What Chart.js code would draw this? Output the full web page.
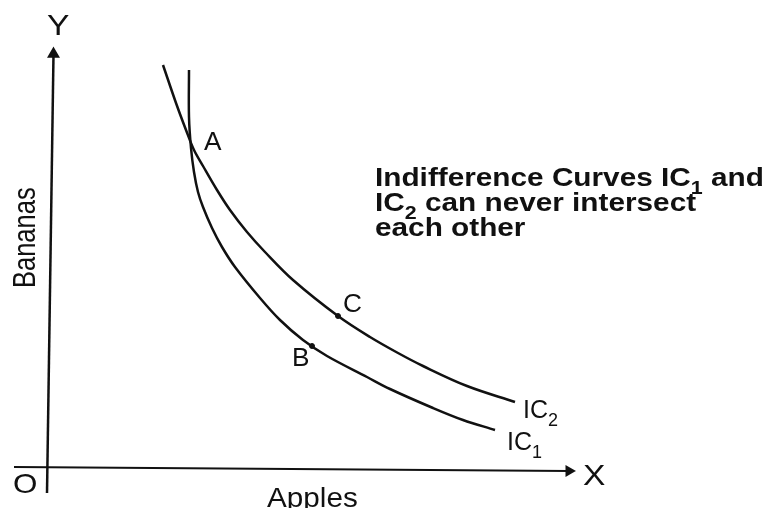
<!DOCTYPE html>
<html lang="en">
<head>
    <meta charset="UTF-8">
    <title>Indifference Curves</title>
    <style>
        body {
            margin: 0;
            background: #fff;
        }
        canvas {
            display: block;
        }
    </style>
    <script src="https://cdn.jsdelivr.net/npm/chart.js"></script>
</head>
<body>
    <canvas id="chart" width="768" height="508"></canvas>

    <script>
        // curve points (apples, bananas)
        const ic2Apples  = [2.28, 2.54, 2.74, 2.90, 3.08, 3.36, 3.62, 3.96, 4.32, 4.88, 5.78, 6.42, 6.98, 7.48, 8.36, 9.32];
        const ic2Bananas = [8.06, 7.30, 6.76, 6.36, 6.04, 5.56, 5.16, 4.72, 4.32, 3.76, 3.04, 2.62, 2.30, 2.04, 1.64, 1.32];

        const ic1Apples  = [2.80, 2.80, 2.84, 2.90, 2.98, 3.08, 3.26, 3.46, 3.72, 4.22, 4.62, 5.08, 5.56, 6.36, 6.82, 7.68, 8.28, 8.92];
        const ic1Bananas = [7.96, 7.02, 6.40, 5.92, 5.52, 5.22, 4.80, 4.42, 4.02, 3.40, 2.96, 2.56, 2.24, 1.82, 1.58, 1.20, 0.96, 0.76];

        // marked points B and C
        const pointNames   = ['B', 'C'];
        const pointApples  = [5.26, 5.78];
        const pointBananas = [2.44, 3.04];

        // axis ends (start, arrow)
        const xAxisApples  = [-0.70, 10.40];
        const xAxisBananas = [0.02, -0.06];
        const yAxisApples  = [-0.04, 0.09];
        const yAxisBananas = [-0.50, 8.28];

        const noteLines = [
            [['Indifference Curves IC'], ['1', 'sub'], [' and']],
            [['IC'], ['2', 'sub'], [' can never intersect']],
            [['each other']]
        ];

        function zip(xs, ys) {
            return xs.map((x, i) => ({ x: x, y: ys[i] }));
        }

        const FONT = '"Liberation Sans", Arial, sans-serif';

        // labels: text parts, anchor (data units), font size, bold, horizontal stretch
        const labels = [
            { parts: [['Y']], x: -0.04, y: 8.66, size: 30, hs: 1.12 },
            { parts: [['X']], x: 10.68, y: -0.34, size: 30, hs: 1.12 },
            { parts: [['O']], x: -0.72, y: -0.50, size: 28, hs: 1.12 },
            { parts: [['Apples']], x: 4.36, y: -0.78, size: 28, hs: 1.06 },
            { parts: [['A']], x: 3.10, y: 6.36, size: 25, hs: 1.05 },
            { parts: [['B']], x: 4.86, y: 2.04, size: 25, hs: 1.05 },
            { parts: [['C']], x: 5.88, y: 3.12, size: 25, hs: 1.05 },
            { parts: [['IC'], ['2', 'sub']], x: 9.48, y: 1.00, size: 25, hs: 1.0 },
            { parts: [['IC'], ['1', 'sub']], x: 9.16, y: 0.36, size: 25, hs: 1.0 },
            { parts: noteLines[0], x: 6.52, y: 5.64, size: 25, hs: 1.19, bold: true },
            { parts: noteLines[1], x: 6.52, y: 5.14, size: 25, hs: 1.19, bold: true },
            { parts: noteLines[2], x: 6.52, y: 4.64, size: 25, hs: 1.19, bold: true }
        ];

        function drawParts(ctx, parts, size, bold) {
            let cx = 0;
            parts.forEach(p => {
                const sub = p[1] === 'sub';
                const fs = sub ? Math.round(size * 0.72) : size;
                ctx.font = (bold ? 'bold ' : '') + fs + 'px ' + FONT;
                ctx.fillText(p[0], cx, sub ? size * 0.3 : 0);
                cx += ctx.measureText(p[0]).width;
            });
        }

        const textPlugin = {
            id: 'texts',
            afterDatasetsDraw(chart) {
                const ctx = chart.ctx;
                const sx = chart.scales.x, sy = chart.scales.y;
                ctx.save();
                ctx.fillStyle = '#111';
                ctx.textAlign = 'left';
                ctx.textBaseline = 'alphabetic';
                labels.forEach(l => {
                    ctx.save();
                    ctx.translate(sx.getPixelForValue(l.x), sy.getPixelForValue(l.y));
                    ctx.scale(l.hs, 1);
                    drawParts(ctx, l.parts, l.size, l.bold);
                    ctx.restore();
                });
                // rotated y title
                ctx.save();
                ctx.translate(sx.getPixelForValue(-0.28), sy.getPixelForValue(3.60));
                ctx.rotate(-Math.PI / 2);
                ctx.scale(1.02, 1.28);
                drawParts(ctx, [['Bananas']], 25, false);
                ctx.restore();
                ctx.restore();
            }
        };

        const ink = '#111';

        new Chart(document.getElementById('chart'), {
            type: 'scatter',
            data: {
                datasets: [
                    {
                        label: 'X axis',
                        data: zip(xAxisApples, xAxisBananas),
                        showLine: true,
                        borderColor: ink,
                        backgroundColor: ink,
                        borderWidth: 2,
                        pointStyle: 'triangle',
                        pointRadius: [0, 5],
                        rotation: [0, 90]
                    },
                    {
                        label: 'Y axis',
                        data: zip(yAxisApples, yAxisBananas),
                        showLine: true,
                        borderColor: ink,
                        backgroundColor: ink,
                        borderWidth: 2.5,
                        pointStyle: 'triangle',
                        pointRadius: [0, 5],
                        rotation: [0, 0]
                    },
                    {
                        label: 'IC2',
                        data: zip(ic2Apples, ic2Bananas),
                        showLine: true,
                        borderColor: ink,
                        borderWidth: 2.5,
                        tension: 0.35,
                        pointRadius: 0
                    },
                    {
                        label: 'IC1',
                        data: zip(ic1Apples, ic1Bananas),
                        showLine: true,
                        borderColor: ink,
                        borderWidth: 2.5,
                        tension: 0.35,
                        pointRadius: 0
                    },
                    {
                        label: 'Points',
                        data: zip(pointApples, pointBananas),
                        backgroundColor: ink,
                        borderColor: ink,
                        pointRadius: 2.5
                    }
                ]
            },
            options: {
                responsive: false,
                animation: false,
                layout: { padding: 0, autoPadding: false },
                plugins: {
                    legend: { display: false },
                    tooltip: { enabled: false }
                },
                scales: {
                    x: { type: 'linear', min: -0.98, max: 14.38, display: false },
                    y: { type: 'linear', min: -0.8, max: 9.36, display: false }
                }
            },
            plugins: [textPlugin]
        });
    </script>
</body>
</html>
